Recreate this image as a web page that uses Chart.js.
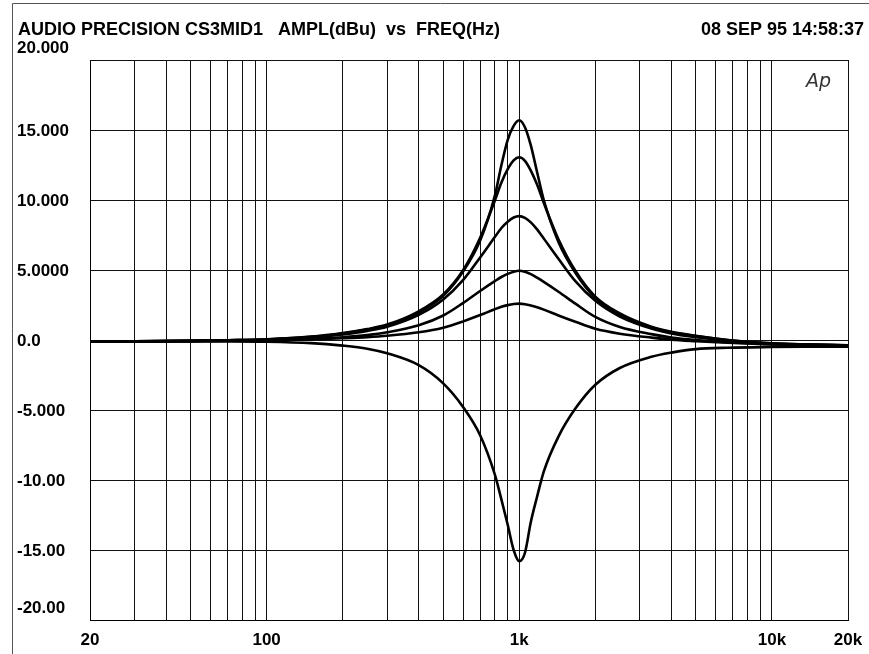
<!DOCTYPE html>
<html>
<head>
<meta charset="utf-8">
<script src="https://cdn.jsdelivr.net/npm/chart.js@4/dist/chart.umd.min.js"></script>
<style>
  html, body { margin: 0; padding: 0; background: #fff; }
  canvas { display: block; }
</style>
</head>
<body>
<canvas id="c" width="869" height="654"></canvas>
<script>
// ---- data ----
const freqHz = [20, 30, 50, 70, 100, 150, 200, 250, 300, 400, 500, 600, 700, 800, 850, 900, 950, 1000,
                1053, 1111, 1176, 1250, 1429, 1667, 2000, 2500, 3333, 4000, 5000, 6667, 10000, 14000, 20000];

const boost15 = [-0.12,-0.1,-0.06,-0.02,0.04,0.22,0.47,0.75,1.05,1.95,3.15,4.9,7.1,10.3,12.5,14.3,15.3,15.7,
                 15.2,13.9,12.0,10.0,7.0,4.8,3.0,1.8,0.9,0.55,0.28,0.0,-0.24,-0.32,-0.38];
const boost13 = [-0.12,-0.1,-0.06,-0.02,0.05,0.24,0.5,0.78,1.1,2.05,3.25,5.0,7.3,9.95,11.25,12.2,12.83,13.05,
                 12.8,12.1,11.1,9.8,7.2,4.95,3.1,1.9,0.95,0.58,0.3,0.0,-0.24,-0.32,-0.38];
const boost9  = [-0.12,-0.1,-0.06,-0.02,0.03,0.18,0.4,0.65,0.95,1.8,2.9,4.3,5.9,7.35,8.0,8.45,8.75,8.85,
                 8.72,8.4,7.9,7.25,5.8,4.2,2.8,1.68,0.82,0.47,0.2,-0.06,-0.27,-0.33,-0.39];
const boost5  = [-0.12,-0.1,-0.07,-0.04,0.0,0.08,0.2,0.35,0.55,1.05,1.75,2.65,3.5,4.2,4.5,4.72,4.88,4.95,
                 4.87,4.7,4.45,4.15,3.45,2.6,1.65,0.93,0.42,0.18,0.0,-0.16,-0.3,-0.36,-0.4];
const boost2  = [-0.12,-0.1,-0.08,-0.05,-0.02,0.04,0.12,0.2,0.3,0.55,0.88,1.33,1.78,2.2,2.37,2.49,2.57,2.6,
                 2.56,2.47,2.34,2.17,1.75,1.3,0.8,0.45,0.17,0.03,-0.08,-0.2,-0.32,-0.38,-0.42];
const cut16   = [-0.12,-0.12,-0.1,-0.1,-0.12,-0.22,-0.4,-0.62,-0.95,-1.8,-3.1,-4.8,-6.8,-9.6,-11.4,-13.2,-15.0,-15.8,
                 -15.2,-13.0,-11.2,-9.4,-6.9,-4.9,-3.2,-2.0,-1.2,-0.9,-0.65,-0.55,-0.5,-0.48,-0.47];

const seriesList = [boost15, boost13, boost9, boost5, boost2, cut16];

const yTickValues = [20, 15, 10, 5, 0, -5, -10, -15, -20];
const yTickLabels = ["20.000", "15.000", "10.000", "5.0000", "0.0", "-5.000", "-10.00", "-15.00", "-20.00"];
const xTickValues = [20, 100, 1000, 10000, 20000];
const xTickLabels = ["20", "100", "1k", "10k", "20k"];
const titleLeft = "AUDIO PRECISION CS3MID1   AMPL(dBu)  vs  FREQ(Hz)";
const titleRight = "08 SEP 95 14:58:37";

// grid frequencies (1..9 x decade)
const gridFreqs = [];
for (let d = 10; d <= 10000; d *= 10) {
  for (let m = 1; m <= 9; m++) {
    const f = m * d;
    if (f >= 20 && f <= 20000) gridFreqs.push(f);
  }
}
if (gridFreqs[gridFreqs.length - 1] !== 20000) gridFreqs.push(20000);

const datasets = seriesList.map(vals => ({
  data: freqHz.map((f, i) => ({ x: f, y: vals[i] })),
  borderColor: '#000',
  borderWidth: 2.6,
  pointRadius: 0,
  fill: false,
  cubicInterpolationMode: 'monotone'
}));

const FONT = '"Liberation Sans", Arial, sans-serif';

const textPlugin = {
  id: 'texts',
  afterDraw(chart) {
    const ctx = chart.ctx;
    const xs = chart.scales.x, ys = chart.scales.y;
    ctx.save();
    // outer frame
    ctx.strokeStyle = '#555';
    ctx.lineWidth = 1;
    ctx.beginPath();
    ctx.moveTo(12.5, 654);
    ctx.lineTo(12.5, 3.5);
    ctx.lineTo(869, 3.5);
    ctx.stroke();

    ctx.fillStyle = '#000';
    ctx.textBaseline = 'middle';
    ctx.font = 'bold 18px ' + FONT;
    ctx.textAlign = 'left';
    ctx.fillText(titleLeft, 18, 30);
    ctx.textAlign = 'right';
    ctx.fillText(titleRight, 864, 30);

    ctx.font = 'bold 17px ' + FONT;
    ctx.textAlign = 'left';
    yTickValues.forEach((v, i) => {
      let y = ys.getPixelForValue(v) + 1;
      if (i === 0) y -= 13;
      if (i === yTickValues.length - 1) y -= 13;
      ctx.fillText(yTickLabels[i], 17, y);
    });
    ctx.textAlign = 'center';
    xTickValues.forEach((v, i) => {
      ctx.fillText(xTickLabels[i], xs.getPixelForValue(v), 640);
    });

    // Ap logo
    ctx.font = 'italic 200 19px "DejaVu Sans", sans-serif';
    ctx.fillStyle = '#333';
    ctx.textAlign = 'left';
    ctx.textBaseline = 'alphabetic';
    ctx.fillText('Ap', 806, 87);
    ctx.restore();
  }
};

new Chart(document.getElementById('c'), {
  type: 'line',
  data: { datasets },
  options: {
    responsive: false,
    animation: false,
    devicePixelRatio: 1,
    layout: { padding: { left: 90, top: 60, right: 21, bottom: 34 } },
    plugins: { legend: { display: false }, tooltip: { enabled: false }, title: { display: false } },
    scales: {
      x: {
        type: 'logarithmic',
        min: 20, max: 20000,
        afterBuildTicks: (scale) => { scale.ticks = gridFreqs.map(v => ({ value: v })); },
        ticks: { display: false, autoSkip: false },
        grid: { color: '#111', lineWidth: 1, drawTicks: false },
        border: { display: true, color: '#000', width: 1 }
      },
      y: {
        type: 'linear',
        min: -20, max: 20,
        ticks: { display: false, stepSize: 5 },
        grid: { color: '#111', lineWidth: 1, drawTicks: false },
        border: { display: true, color: '#000', width: 1 }
      }
    }
  },
  plugins: [textPlugin]
});
</script>
</body>
</html>
